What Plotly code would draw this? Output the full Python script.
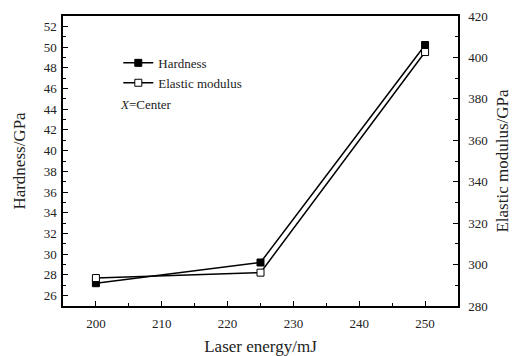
import plotly.graph_objects as go

laser_energy = [200, 225, 250]
hardness = [27.2, 29.2, 50.2]
elastic_modulus = [293.5, 296.1, 402.6]

FONT = "Liberation Serif, DejaVu Serif, serif"

fig = go.Figure()
fig.add_trace(go.Scatter(
    x=laser_energy, y=hardness, name="Hardness", mode="lines+markers",
    line=dict(color="black", width=1.5),
    marker=dict(symbol="square", size=7, color="black", line=dict(color="black", width=1)),
))
fig.add_trace(go.Scatter(
    x=laser_energy, y=elastic_modulus, name="Elastic modulus", mode="lines+markers",
    yaxis="y2",
    line=dict(color="black", width=1.5),
    marker=dict(symbol="square", size=7, color="white", line=dict(color="black", width=1)),
))

axis_common = dict(
    showgrid=False, zeroline=False, showline=True, linecolor="black", linewidth=1.5,
    ticks="inside", ticklen=5, tickcolor="black", tickwidth=1.2, automargin=False,
    tickfont=dict(family=FONT, size=13, color="#222"),
)

fig.update_layout(
    width=512, height=356,
    margin=dict(l=63, r=54, t=16, b=50),
    paper_bgcolor="white", plot_bgcolor="white",
    font=dict(family=FONT, color="#222"),
    xaxis=dict(
        range=[195, 255], dtick=10, mirror=True, ticklabelstandoff=5,
        minor=dict(dtick=5, ticks="inside", ticklen=3, tickcolor="black"),
        title=dict(text="Laser energy/mJ", font=dict(family=FONT, size=17), standoff=11),
        **axis_common,
    ),
    yaxis=dict(
        range=[25, 53], dtick=2, ticklabelstandoff=2,
        minor=dict(dtick=1, ticks="inside", ticklen=3, tickcolor="black"),
        title=dict(text="Hardness/GPa", font=dict(family=FONT, size=17), standoff=14),
        **axis_common,
    ),
    yaxis2=dict(
        range=[280, 420], dtick=20, overlaying="y", side="right", ticklabelstandoff=6,
        minor=dict(dtick=10, ticks="inside", ticklen=3, tickcolor="black"),
        title=dict(text="Elastic modulus/GPa", font=dict(family=FONT, size=17), standoff=10),
        **axis_common,
    ),
    legend=dict(
        x=0.14, y=0.89, xanchor="left", yanchor="top",
        bgcolor="rgba(0,0,0,0)", font=dict(family=FONT, size=13),
        tracegroupgap=0, itemwidth=30,
    ),
    showlegend=True,
)

fig.add_annotation(
    xref="paper", yref="paper", x=0.14, y=0.695, xanchor="left", yanchor="middle",
    text="<i>X</i>=Center", showarrow=False, font=dict(family=FONT, size=13, color="#222"),
)

fig.write_html("out.html")
